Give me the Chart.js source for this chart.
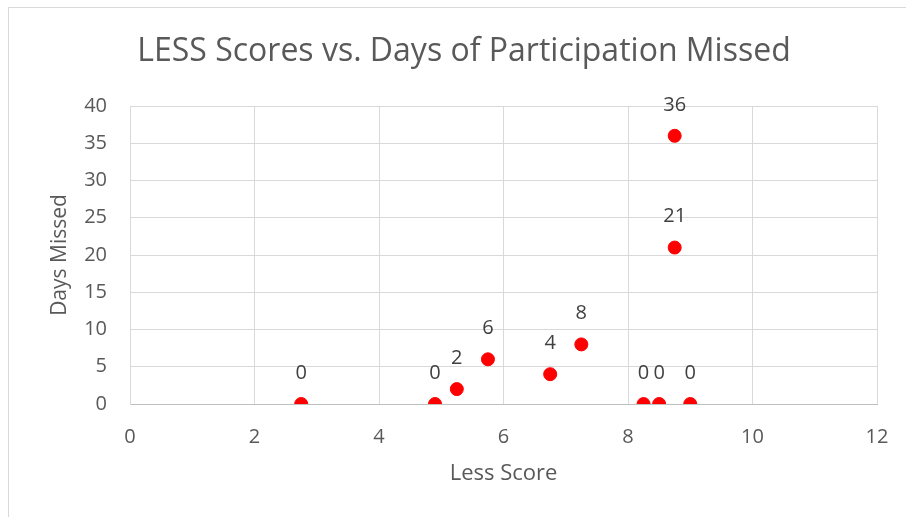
<!DOCTYPE html>
<html>
<head>
<meta charset="utf-8">
<script src="https://cdn.jsdelivr.net/npm/chart.js@4/dist/chart.umd.min.js"></script>
<style>
  html, body { margin: 0; padding: 0; background: #fff; }
  #wrap { position: relative; width: 906px; height: 517px; overflow: hidden; }
  #frame { position: absolute; left: 8px; top: 7px; width: 1000px; height: 600px; border: 1px solid #d9d9d9; box-sizing: border-box; }
  canvas { position: absolute; left: 0; top: 0; }
</style>
</head>
<body>
<div id="wrap">
  <div id="frame"></div>
  <canvas id="c" width="906" height="517"></canvas>
</div>
<script>
const lessScores = [2.75, 4.9, 5.25, 5.75, 6.75, 7.25, 8.25, 8.5, 8.75, 8.75, 9];
const daysMissed = [0, 0, 2, 6, 4, 8, 0, 0, 36, 21, 0];
const chartTitle = 'LESS Scores vs. Days of Participation Missed';
const xTitle = 'Less Score';
const yTitle = 'Days Missed';

const FONT = "'Open Sans', sans-serif";

const labelPlugin = {
  id: 'pointLabels',
  afterDatasetsDraw(chart) {
    const ctx = chart.ctx;
    const meta = chart.getDatasetMeta(0);
    ctx.save();
    ctx.font = "20px " + FONT;
    ctx.fillStyle = '#404040';
    ctx.textAlign = 'center';
    ctx.textBaseline = 'middle';
    meta.data.forEach((pt, i) => {
      ctx.fillText(String(daysMissed[i]), pt.x, pt.y - 31);
    });
    ctx.restore();
  }
};

new Chart(document.getElementById('c'), {
  type: 'scatter',
  data: {
    datasets: [{
      data: lessScores.map((x, i) => ({ x: x, y: daysMissed[i] })),
      backgroundColor: '#ff0000',
      borderColor: '#ff0000',
      pointRadius: 6.5,
      pointHoverRadius: 6.5
    }]
  },
  options: {
    responsive: false,
    animation: false,
    events: [],
    layout: { padding: { left: 22, right: 0, top: 0, bottom: 0 } },
    plugins: {
      legend: { display: false },
      tooltip: { enabled: false },
      title: {
        display: true,
        text: chartTitle,
        color: '#595959',
        font: { family: FONT, size: 32, weight: 'normal', lineHeight: 1.2 },
        padding: { top: 32.5, bottom: 35.1 }
      }
    },
    scales: {
      x: {
        type: 'linear',
        min: 0, max: 12,
        ticks: { stepSize: 2, color: '#595959', font: { family: FONT, size: 20 }, padding: 21 },
        grid: { color: '#d9d9d9', lineWidth: 1, drawTicks: false },
        border: { color: '#bfbfbf', width: 1 },
        title: { display: true, text: xTitle, color: '#595959', font: { family: FONT, size: 22 }, padding: { top: 0, bottom: 30 } },
        afterFit(s) { s.height = 113; s.paddingLeft = 0; s.paddingRight = 29; }
      },
      y: {
        type: 'linear',
        min: 0, max: 40,
        ticks: { stepSize: 5, color: '#595959', font: { family: FONT, size: 20 }, padding: 23 },
        grid: { color: '#d9d9d9', lineWidth: 1, drawTicks: false },
        border: { color: '#d9d9d9', width: 1 },
        title: { display: true, text: yTitle, color: '#595959', font: { family: FONT, size: 21 }, padding: { top: 25, bottom: 0 } },
        afterFit(s) { s.width = 108; }
      }
    }
  },
  plugins: [labelPlugin]
});
</script>
</body>
</html>
